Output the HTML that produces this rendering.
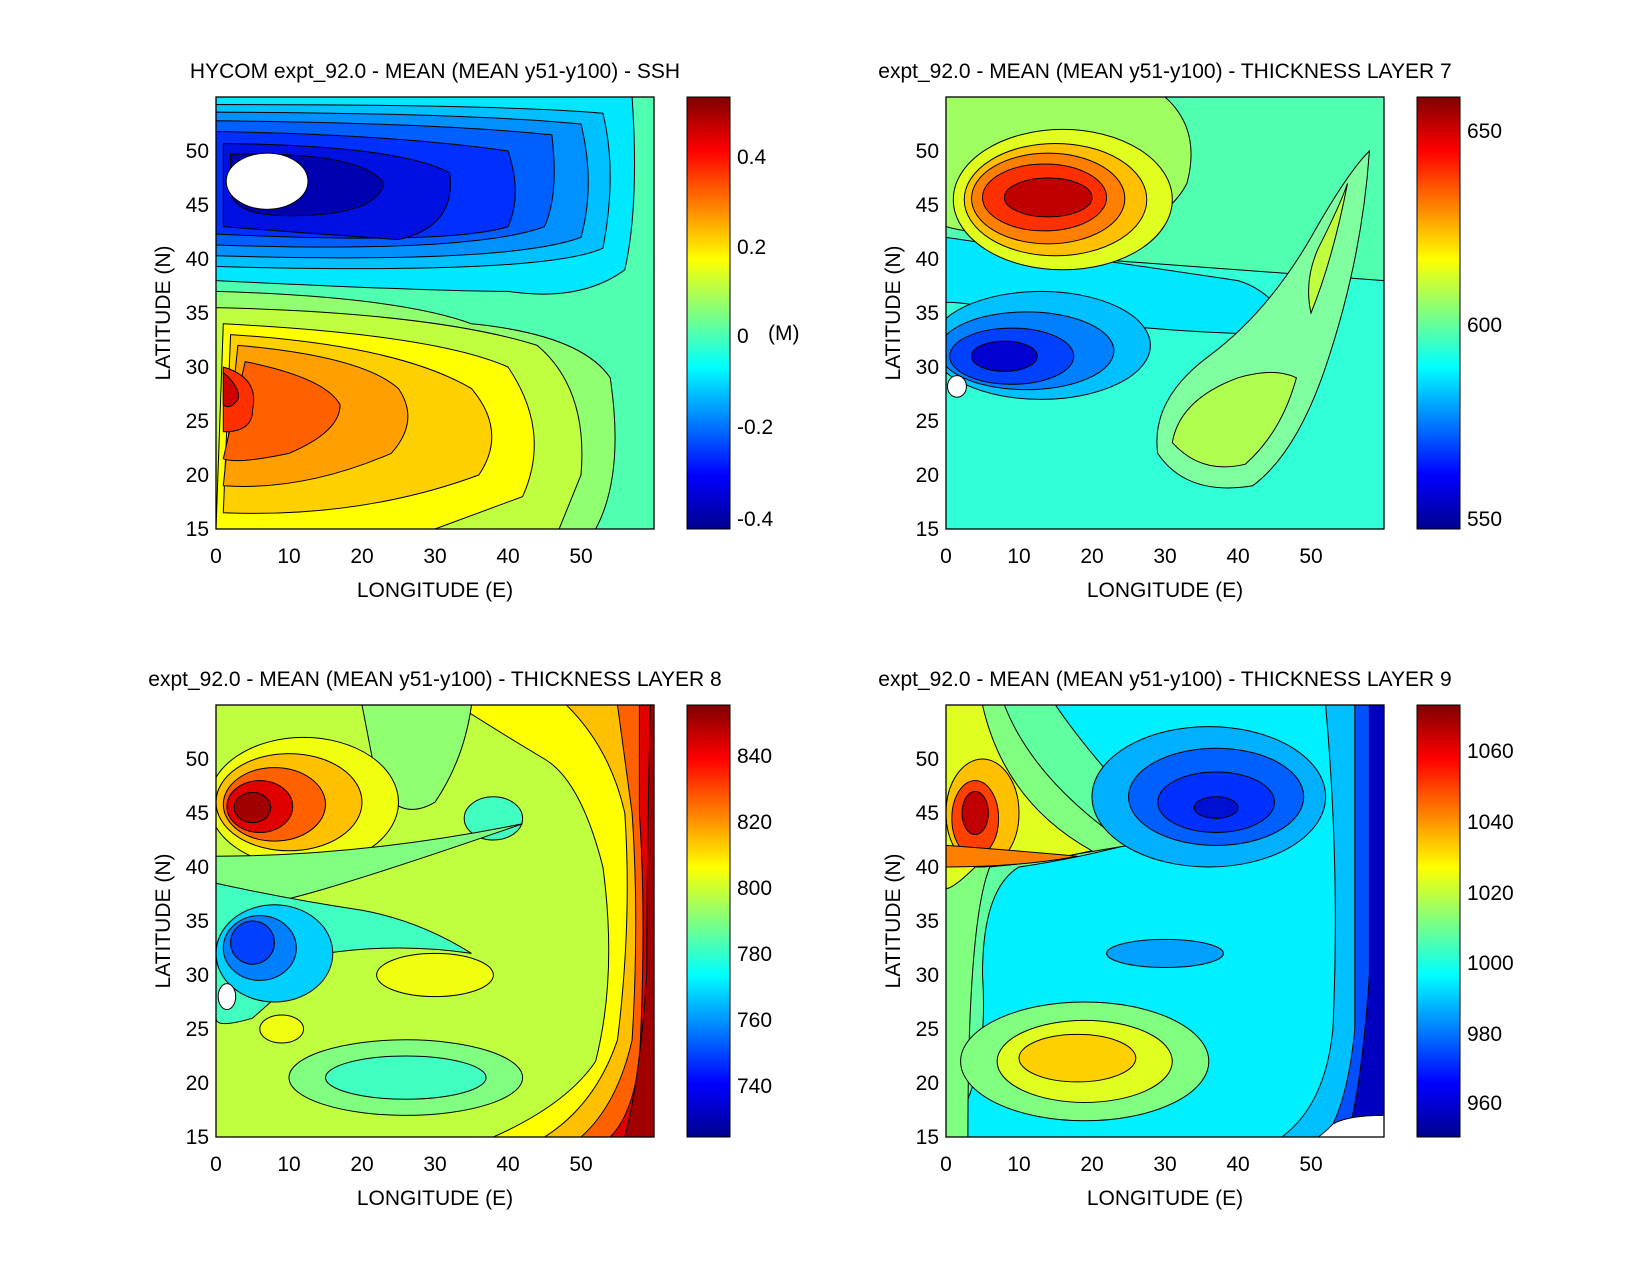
<!DOCTYPE html>
<html><head><meta charset="utf-8">
<style>
body{margin:0;background:#fff}
svg{display:block}
text{font-family:"Liberation Sans",sans-serif;font-size:21px;fill:#000}
.c path,.c ellipse,.c rect.f{stroke:#000;stroke-width:1;vector-effect:non-scaling-stroke}
.ax{fill:none;stroke:#000;stroke-width:1.3}
</style></head><body>
<svg width="1650" height="1275" viewBox="0 0 1650 1275" xmlns="http://www.w3.org/2000/svg">
<defs>
<linearGradient id="jet" x1="0" y1="1" x2="0" y2="0">
<stop offset="0" stop-color="#00008f"/><stop offset="0.125" stop-color="#0000ff"/>
<stop offset="0.375" stop-color="#00ffff"/><stop offset="0.625" stop-color="#ffff00"/>
<stop offset="0.875" stop-color="#ff0000"/><stop offset="1" stop-color="#800000"/>
</linearGradient>
<clipPath id="cp"><rect x="0" y="15" width="60" height="40"/></clipPath>
</defs>

<!-- Panel 1 SSH -->
<g transform="translate(216,529) scale(7.3,-10.8) translate(0,-15)" clip-path="url(#cp)" class="c">
<rect x="0" y="15" width="60" height="40" fill="#50ffb0"/>
<path fill="#00e8ff" d="M0,55 L57,55 Q58,45 56,39 Q50,36 40,37 Q30,37 0,38 Z"/>
<path fill="#00c0ff" d="M0,54.3 Q40,54.3 53,53.5 Q55,48 53,41 Q45,38.5 0,39.3 Z"/>
<path fill="#0090ff" d="M0,53.6 Q35,53.5 50,52.5 Q52,47 50,42 Q40,39.5 0,40.3 Z"/>
<path fill="#0060ff" d="M0,52.8 Q30,52.6 46,51.5 Q47,46 45,43 Q35,40.5 0,41.3 Z"/>
<path fill="#0030ff" d="M0,51.8 Q25,51.5 40,50 Q42,46 40,43 Q32,41.3 0,42.3Z"/>
<path fill="#0010e0" d="M1,50.7 Q25,50.5 32,48 Q33,43 25,41.8 Q10,42.5 1,43 Z"/>
<path fill="#0000b0" d="M2,49.7 Q20,50 23,47 Q22,44 10,44 Q3,44 2,46 Z"/>
<ellipse cx="7" cy="47.2" rx="5.6" ry="2.6" fill="#fff"/>
<path fill="#90ff70" d="M0,37 Q25,36.5 35,34 Q50,33 54,29 Q56,20 52,15 L0,15 Z"/>
<path fill="#c0ff40" d="M0,35.5 Q30,35 44,32 Q51,28 50,20 L47,15 L0,15 Z"/>
<path fill="#ffff00" d="M1,34 Q30,33 40,30 Q46,24 42,18 L30,15 L0,15Z"/>
<path fill="#ffd000" d="M2,33 Q25,32 35,28 Q40,24 36,20 Q20,16 1,16.5 Z"/>
<path fill="#ffa000" d="M3,32 Q20,31 25,28 Q28,25 24,22 Q12,18.5 1,19 Z"/>
<path fill="#ff6000" d="M4,30.5 Q15,29 17,26.5 Q17,24 10,22 Q3,21 1,21.5 Z"/>
<path fill="#ff3000" d="M1,30 Q6,29 5,26 Q5,24 1,24 Z"/>
<path fill="#d00000" d="M1,29.5 Q3.5,28 3,27 Q2,26 1,26.5 Z"/>
</g>
<rect class="ax" x="216" y="97" width="438" height="432"/>
<rect x="687" y="97" width="43" height="432" fill="url(#jet)" stroke="#000"/>

<!-- Panel 2 layer 7 -->
<g transform="translate(946,529) scale(7.3,-10.8) translate(0,-15)" clip-path="url(#cp)" class="c">
<rect x="0" y="15" width="60" height="40" fill="#30ffd8"/>
<path fill="#50ffb0" d="M0,55 L60,55 L60,38 Q40,39 20,40 Q5,41 0,42 Z"/>
<path fill="#00e8ff" d="M0,42 Q20,40 40,38 Q45,37 48,33 Q30,33 10,35 Q3,36 0,36 Z"/>
<path fill="#a0ff60" d="M0,55 L30,55 Q35,52 33,47 Q30,43 20,42 Q5,42 0,43 Z"/>
<ellipse cx="16" cy="45.5" rx="15" ry="6.5" fill="#e0ff20"/>
<ellipse cx="15" cy="45.5" rx="12.5" ry="5.2" fill="#ffc000"/>
<ellipse cx="14" cy="45.6" rx="10.5" ry="4.2" fill="#ff8000"/>
<ellipse cx="13.5" cy="45.7" rx="8.5" ry="3.1" fill="#ff3000"/>
<ellipse cx="14" cy="45.7" rx="6" ry="1.8" fill="#c00000"/>
<ellipse cx="13" cy="32" rx="15" ry="5" fill="#00c0ff"/>
<ellipse cx="11" cy="31.5" rx="12" ry="3.6" fill="#0080ff"/>
<ellipse cx="9" cy="31" rx="8.5" ry="2.6" fill="#0040ff"/>
<ellipse cx="8" cy="31" rx="4.5" ry="1.4" fill="#0000d0"/>
<ellipse cx="1.5" cy="28.2" rx="1.3" ry="1" fill="#fff"/>
<path fill="#80ffa0" d="M29,22 Q33,18 42,19 Q48,22 52,30 Q57,40 58,50 Q55,48 50,42 Q44,35 36,31 Q28,27 29,22Z"/>
<path fill="#b0ff50" d="M31,23 Q35,20 41,21 Q46,24 48,29 Q45,30 40,29 Q32,27 31,23Z"/>
<path fill="#c0ff40" d="M50,35 Q53,40 55,47 Q54,45 51,41 Q49,38 50,35Z"/>
</g>
<rect class="ax" x="946" y="97" width="438" height="432"/>
<rect x="1417" y="97" width="43" height="432" fill="url(#jet)" stroke="#000"/>

<!-- Panel 3 layer 8 -->
<g transform="translate(216,1137) scale(7.3,-10.8) translate(0,-15)" clip-path="url(#cp)" class="c">
<rect x="0" y="15" width="60" height="40" fill="#c0ff40"/>
<path fill="#ffff00" d="M33,55 L60,55 L60,15 L38,15 Q48,18 52,22 Q55,30 53,40 Q50,48 45,50 Q40,52 33,55Z"/>
<path fill="#ffc000" d="M48,55 L60,55 L60,15 L45,15 Q52,18 55,24 Q57,35 56,45 Q54,51 48,55Z"/>
<path fill="#ff6000" d="M55,55 L60,55 L60,15 L50,15 Q55,18 57,24 Q58,35 57,45Z"/>
<path fill="#e00000" d="M58,55 L60,55 L60,15 L54,15 Q57,17 58,22 Q59,35 58,45Z"/>
<path fill="#a00000" d="M60,55 L60,15 L56,15 Q58,20 59,30 Q59,40 59.5,55Z"/>
<path fill="#90ff70" d="M20,55 L35,55 Q34,50 30,46 Q25,44 22,48 Z"/>
<ellipse cx="12" cy="46" rx="13" ry="6" fill="#f0ff10"/>
<ellipse cx="10" cy="46" rx="10" ry="4.5" fill="#ffc000"/>
<ellipse cx="8" cy="45.8" rx="7" ry="3.4" fill="#ff6000"/>
<ellipse cx="6" cy="45.6" rx="4.5" ry="2.4" fill="#e00000"/>
<ellipse cx="5" cy="45.5" rx="2.5" ry="1.4" fill="#a00000"/>
<ellipse cx="38" cy="44.5" rx="4" ry="2" fill="#40ffc0"/>
<path fill="#80ff80" d="M0,41 Q20,41 42,44 Q25,40 15,38 Q5,36 0,36Z"/>
<path fill="#40ffc0" d="M0,38.5 Q10,37 20,36 Q28,35 35,32 Q25,33 15,32 Q10,29 5,26 Q0,25 0,26Z"/>
<ellipse cx="8" cy="32" rx="8" ry="4.5" fill="#00d0ff"/>
<ellipse cx="6" cy="32.5" rx="5" ry="3" fill="#0080ff"/>
<ellipse cx="5" cy="33" rx="3" ry="2" fill="#0040ff"/>
<ellipse cx="1.5" cy="28" rx="1.2" ry="1.2" fill="#fff"/>
<ellipse cx="26" cy="20.5" rx="16" ry="3.5" fill="#80ff80"/>
<ellipse cx="26" cy="20.5" rx="11" ry="2" fill="#40ffc0"/>
<ellipse cx="30" cy="30" rx="8" ry="2" fill="#f0ff10"/>
<ellipse cx="9" cy="25" rx="3" ry="1.3" fill="#f0ff10"/>
</g>
<rect class="ax" x="216" y="705" width="438" height="432"/>
<rect x="687" y="705" width="43" height="432" fill="url(#jet)" stroke="#000"/>

<!-- Panel 4 layer 9 -->
<g transform="translate(946,1137) scale(7.3,-10.8) translate(0,-15)" clip-path="url(#cp)" class="c">
<rect x="0" y="15" width="60" height="40" fill="#00f0ff"/>
<path fill="#60ffa0" d="M0,55 L15,55 Q20,50 30,43 Q20,41 10,40 Q5,38 5,30 Q6,20 0,15Z"/>
<path fill="#80ff80" d="M0,55 L8,55 Q12,48 25,42 Q12,40.5 6,40 Q3,35 3,15 L0,15Z"/>
<ellipse cx="19" cy="22" rx="17" ry="5.5" fill="#80ff80"/>
<ellipse cx="19" cy="22" rx="12" ry="3.8" fill="#e0ff20"/>
<ellipse cx="18" cy="22.3" rx="8" ry="2.2" fill="#ffd000"/>
<path fill="#e0ff20" d="M0,55 L5,55 Q8,46 20,41.5 Q10,40 4,40 Q1,38 0,38Z"/>
<ellipse cx="5" cy="45" rx="5" ry="5" fill="#ffc000"/>
<ellipse cx="4" cy="44.5" rx="3.2" ry="3.5" fill="#ff4000"/>
<ellipse cx="4" cy="45" rx="1.8" ry="2" fill="#c00000"/>
<path fill="#ff8000" d="M0,42 Q10,41.5 18,41 Q10,40 0,40Z"/>
<ellipse cx="36" cy="46.5" rx="16" ry="6.5" fill="#00b0ff"/>
<ellipse cx="37" cy="46.5" rx="12" ry="4.5" fill="#0060ff"/>
<ellipse cx="37" cy="46" rx="8" ry="2.8" fill="#0030ff"/>
<ellipse cx="37" cy="45.5" rx="3" ry="1" fill="#0010d0"/>
<ellipse cx="30" cy="32" rx="8" ry="1.3" fill="#00a0ff"/>
<path fill="#00c0ff" d="M52,55 L60,55 L60,15 L46,15 Q52,18 53,25 Q54,40 52,55Z"/>
<path fill="#0050ff" d="M56,55 L60,55 L60,15 L52,15 Q55,18 56,25Z"/>
<path fill="#0000c0" d="M58,55 L60,55 L60,15 L55,15 Q57,20 58,30Z"/>
<path fill="#fff" d="M51,15 L60,15 L60,17 Q55,17 53,16.2 Q52,15.5 51,15Z"/>
</g>
<rect class="ax" x="946" y="705" width="438" height="432"/>
<rect x="1417" y="705" width="43" height="432" fill="url(#jet)" stroke="#000"/>

<!-- titles -->
<g style="font-size:22px">
<text x="435" y="78" text-anchor="middle">HYCOM expt_92.0 - MEAN (MEAN y51-y100) - SSH</text>
<text x="1165" y="78" text-anchor="middle">expt_92.0 - MEAN (MEAN y51-y100) - THICKNESS LAYER 7</text>
<text x="435" y="686" text-anchor="middle">expt_92.0 - MEAN (MEAN y51-y100) - THICKNESS LAYER 8</text>
<text x="1165" y="686" text-anchor="middle">expt_92.0 - MEAN (MEAN y51-y100) - THICKNESS LAYER 9</text>
</g>

<!-- axis labels -->
<g text-anchor="middle" style="font-size:22px">
<text x="435" y="597">LONGITUDE (E)</text><text x="1165" y="597">LONGITUDE (E)</text>
<text x="435" y="1205">LONGITUDE (E)</text><text x="1165" y="1205">LONGITUDE (E)</text>
<text transform="translate(170,313) rotate(-90)">LATITUDE (N)</text>
<text transform="translate(900,313) rotate(-90)">LATITUDE (N)</text>
<text transform="translate(170,921) rotate(-90)">LATITUDE (N)</text>
<text transform="translate(900,921) rotate(-90)">LATITUDE (N)</text>
</g>

<!-- x ticks -->
<g text-anchor="middle">
<text x="216" y="563">0</text><text x="289" y="563">10</text><text x="362" y="563">20</text><text x="435" y="563">30</text><text x="508" y="563">40</text><text x="581" y="563">50</text>
<text x="946" y="563">0</text><text x="1019" y="563">10</text><text x="1092" y="563">20</text><text x="1165" y="563">30</text><text x="1238" y="563">40</text><text x="1311" y="563">50</text>
<text x="216" y="1171">0</text><text x="289" y="1171">10</text><text x="362" y="1171">20</text><text x="435" y="1171">30</text><text x="508" y="1171">40</text><text x="581" y="1171">50</text>
<text x="946" y="1171">0</text><text x="1019" y="1171">10</text><text x="1092" y="1171">20</text><text x="1165" y="1171">30</text><text x="1238" y="1171">40</text><text x="1311" y="1171">50</text>
</g>
<!-- y ticks -->
<g text-anchor="end">
<text x="209" y="536">15</text><text x="209" y="482">20</text><text x="209" y="428">25</text><text x="209" y="374">30</text><text x="209" y="320">35</text><text x="209" y="266">40</text><text x="209" y="212">45</text><text x="209" y="158">50</text>
<text x="939" y="536">15</text><text x="939" y="482">20</text><text x="939" y="428">25</text><text x="939" y="374">30</text><text x="939" y="320">35</text><text x="939" y="266">40</text><text x="939" y="212">45</text><text x="939" y="158">50</text>
<text x="209" y="1144">15</text><text x="209" y="1090">20</text><text x="209" y="1036">25</text><text x="209" y="982">30</text><text x="209" y="928">35</text><text x="209" y="874">40</text><text x="209" y="820">45</text><text x="209" y="766">50</text>
<text x="939" y="1144">15</text><text x="939" y="1090">20</text><text x="939" y="1036">25</text><text x="939" y="982">30</text><text x="939" y="928">35</text><text x="939" y="874">40</text><text x="939" y="820">45</text><text x="939" y="766">50</text>
</g>
<!-- colorbar labels -->
<text x="737" y="164">0.4</text><text x="737" y="254">0.2</text><text x="737" y="343">0</text><text x="737" y="434">-0.2</text><text x="737" y="526">-0.4</text>
<text x="768" y="340">(M)</text>
<text x="1467" y="138">650</text><text x="1467" y="332">600</text><text x="1467" y="526">550</text>
<text x="737" y="763">840</text><text x="737" y="829">820</text><text x="737" y="895">800</text><text x="737" y="961">780</text><text x="737" y="1027">760</text><text x="737" y="1093">740</text>
<text x="1467" y="758">1060</text><text x="1467" y="829">1040</text><text x="1467" y="900">1020</text><text x="1467" y="970">1000</text><text x="1467" y="1041">980</text><text x="1467" y="1110">960</text>
</svg>
</body></html>
